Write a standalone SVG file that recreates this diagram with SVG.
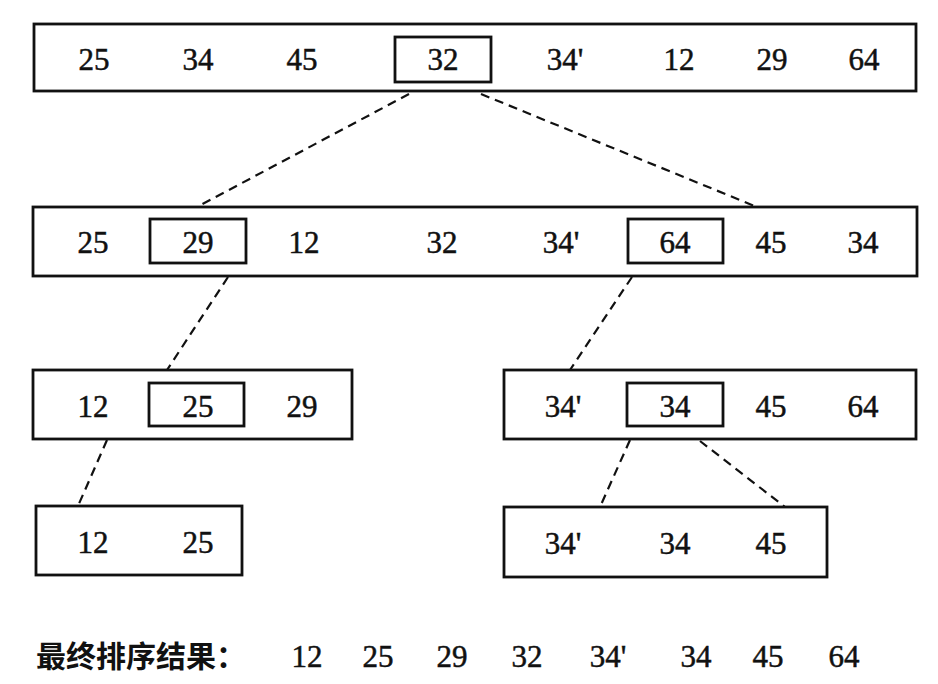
<svg xmlns="http://www.w3.org/2000/svg" width="938" height="684" viewBox="0 0 938 684">
<style>
.box{fill:none;stroke:#111;stroke-width:2.8}
.pv{fill:none;stroke:#111;stroke-width:2.8}
.num{font-size:31px;fill:#111;stroke:#111;stroke-width:0.5;text-anchor:middle}
.cn{font-family:'Noto Sans CJK SC','Noto Sans',sans-serif;font-size:30px;font-weight:bold;fill:#111}
.dash{fill:none;stroke:#111;stroke-width:2.2;stroke-dasharray:9 6}
</style>
<rect width="938" height="684" fill="#fff"/>
<g id="connectors">
<line class="dash" x1="409" y1="94" x2="197" y2="207"/>
<line class="dash" x1="481" y1="94" x2="757" y2="207"/>
<line class="dash" x1="228" y1="277" x2="167" y2="370"/>
<line class="dash" x1="632" y1="277" x2="570" y2="370"/>
<line class="dash" x1="107" y1="440" x2="78" y2="506"/>
<line class="dash" x1="630" y1="440" x2="600" y2="507"/>
<line class="dash" x1="700" y1="441" x2="785" y2="507"/>
</g>
<g font-family="Liberation Serif, Times New Roman, serif">
<g id="row1">
<rect class="box" x="34" y="24" width="882" height="67"/>
<rect class="pv" x="395" y="37" width="96" height="45"/>
<text class="num" x="94" y="70">25</text>
<text class="num" x="198" y="70">34</text>
<text class="num" x="302" y="70">45</text>
<text class="num" x="443" y="70">32</text>
<text class="num" x="565" y="70">34'</text>
<text class="num" x="679" y="70">12</text>
<text class="num" x="772" y="70">29</text>
<text class="num" x="864" y="70">64</text>
</g>
<g id="row2">
<rect class="box" x="33" y="207" width="884" height="69"/>
<rect class="pv" x="150" y="219" width="96" height="44"/>
<rect class="pv" x="628" y="219" width="95" height="44"/>
<text class="num" x="93" y="253">25</text>
<text class="num" x="198" y="253">29</text>
<text class="num" x="304" y="253">12</text>
<text class="num" x="442" y="253">32</text>
<text class="num" x="561" y="253">34'</text>
<text class="num" x="675" y="253">64</text>
<text class="num" x="771" y="253">45</text>
<text class="num" x="863" y="253">34</text>
</g>
<g id="row3-left">
<rect class="box" x="33" y="370" width="319" height="69"/>
<rect class="pv" x="149" y="383" width="95" height="43"/>
<text class="num" x="93" y="417">12</text>
<text class="num" x="198" y="417">25</text>
<text class="num" x="302" y="417">29</text>
</g>
<g id="row3-right">
<rect class="box" x="504" y="370" width="412" height="69"/>
<rect class="pv" x="627" y="383" width="96" height="43"/>
<text class="num" x="563" y="417">34'</text>
<text class="num" x="675" y="417">34</text>
<text class="num" x="771" y="417">45</text>
<text class="num" x="863" y="417">64</text>
</g>
<g id="row4-left">
<rect class="box" x="36" y="506" width="206" height="69"/>
<text class="num" x="93" y="553">12</text>
<text class="num" x="198" y="553">25</text>
</g>
<g id="row4-right">
<rect class="box" x="504" y="507" width="323" height="70"/>
<text class="num" x="563" y="554">34'</text>
<text class="num" x="675" y="554">34</text>
<text class="num" x="771" y="554">45</text>
</g>
<g id="result">
<text class="cn" x="36" y="667">最终排序结果：</text>
<text class="num" x="307" y="667">12</text>
<text class="num" x="378" y="667">25</text>
<text class="num" x="452" y="667">29</text>
<text class="num" x="527" y="667">32</text>
<text class="num" x="608" y="667">34'</text>
<text class="num" x="696" y="667">34</text>
<text class="num" x="768" y="667">45</text>
<text class="num" x="844" y="667">64</text>
</g>
</g>
</svg>
